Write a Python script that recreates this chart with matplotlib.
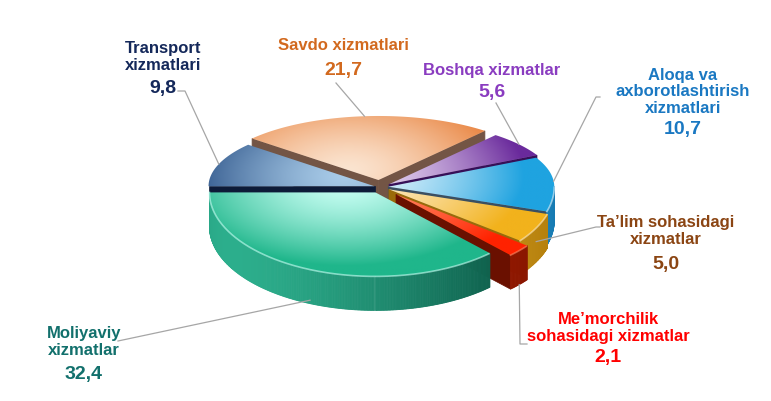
import numpy as np
import matplotlib
matplotlib.use("Agg")
import matplotlib.pyplot as plt
from matplotlib.patches import Polygon
from matplotlib.colors import to_rgb

# slices in counter-clockwise order
names = ["Me’morchilik\nsohasidagi xizmatlar", "Ta’lim sohasidagi\nxizmatlar",
         "Aloqa va\naxborotlashtirish\nxizmatlari", "Boshqa xizmatlar",
         "Savdo xizmatlari", "Transport\nxizmatlari", "Moliyaviy\nxizmatlar"]
values = [2.1, 5.0, 10.7, 5.6, 21.7, 9.8, 32.4]
value_labels = ["2,1", "5,0", "10,7", "5,6", "21,7", "9,8", "32,4"]

top_base = ['#ff2200', '#f2b21c', '#1fa3e0', '#6a2a9c', '#e8803a', '#21487f', '#1fb68b']
top_light = ['#ff8a66', '#fdebc8', '#e6f5fc', '#eadcf3', '#fbe4d0', '#a8cbe8', '#c8fff4']
wall_dark = ['#7a1200', '#b07a08', '#1478b0', '#451868', '#7e604c', '#101f40', '#044536']
wall_light = ['#c42400', '#f0c040', '#5ac4f0', '#7a40a8', '#a8866e', '#2a4a80', '#2cae8c']
face_col = ['#6a1000', '#9a6a0a', '#3b4f60', '#361058', '#735545', '#0d1b38', '#0c6048']
text_col = ['#ff0000', '#8b4513', '#1a78c2', '#8a3cc0', '#d2691e', '#14285a', '#12706c']
explode = [0.13, 0.06, 0.05, 0.07, 0.11, 0.035, 0.07]

# label placement (x centre, name centre y, value centre y) and leader start
label_pos = [(608, 328, 358), (666, 231, 265), (683, 92, 130), (492, 70, 92),
             (343, 45, 70), (163, 57, 89), (84, 342, 375)]
leader_start = [[(527, 345), (520, 345)], [(600, 228), (596, 228)],
                [(600, 98), (596, 98)], [(496, 104)], [(336, 84)],
                [(178, 92), (185, 92)], [(118, 342)]]
anchor_depth = [1.0, 0.4, 0.0, 0.0, 0.0, 0.0, 0.9]

cx, cy, rx, ry_back, ry_front, depth = 380, 188, 166, 64, 84, 34

fig = plt.figure(figsize=(7.71, 4.02), dpi=100)
ax = fig.add_axes([0, 0, 1, 1])
ax.set_axis_off()

total = sum(values)
start = 180 - sum(values[:6]) / total * 360
angles = [start]
for v in values:
    angles.append(angles[-1] + v / total * 360)


def mix(c1, c2, f):
    a, b = np.array(to_rgb(c1)), np.array(to_rgb(c2))
    return a * (1 - f) + b * f


def ry_at(s):
    return ry_back if s > 0 else ry_front


def rim(t, dx, dy, down=0.0):
    r = np.radians(t)
    s = np.sin(r)
    return np.array([cx + rx * np.cos(r) + dx, cy - ry_at(s) * s + dy + down])


offsets = []
for i in range(len(values)):
    mid = np.radians((angles[i] + angles[i + 1]) / 2)
    s = np.sin(mid)
    offsets.append((explode[i] * rx * np.cos(mid), -explode[i] * ry_at(s) * s))

order = sorted(range(len(values)),
               key=lambda i: -np.sin(np.radians((angles[i] + angles[i + 1]) / 2)))
z = 1
for i in order:
    a0, a1 = angles[i], angles[i + 1]
    dx, dy = offsets[i]
    c = np.array([cx + dx, cy + dy])
    cb = c + [0, depth]
    # radial faces
    if np.cos(np.radians(a0)) > 0:
        p, pb = rim(a0, dx, dy), rim(a0, dx, dy, depth)
        ax.add_patch(Polygon([c, p, pb, cb], closed=True, fc=face_col[i], ec=face_col[i], lw=0.5, zorder=z))
        z += 1
    if np.cos(np.radians(a1)) < 0:
        p, pb = rim(a1, dx, dy), rim(a1, dx, dy, depth)
        ax.add_patch(Polygon([c, p, pb, cb], closed=True, fc=face_col[i], ec=face_col[i], lw=0.5, zorder=z))
        z += 1
    # outer wall
    ts = np.linspace(a0, a1, max(int(a1 - a0) * 2, 4))
    front = []
    for t0, t1 in zip(ts[:-1], ts[1:]):
        tm = np.radians((t0 + t1) / 2)
        if np.sin(tm) >= 0:
            continue
        f = 0.5 + 0.5 * np.cos(tm - np.radians(210))
        f = np.clip(f, 0, 1) ** 1.3
        col = mix(wall_dark[i], wall_light[i], f)
        quad = [rim(t0, dx, dy), rim(t1, dx, dy), rim(t1, dx, dy, depth), rim(t0, dx, dy, depth)]
        ax.add_patch(Polygon(quad, closed=True, fc=col, ec=col, lw=0.6, zorder=z))
        front.append(rim(t0, dx, dy))
    z += 1
    # top face with radial gradient
    pts = np.array([c] + [rim(t, dx, dy) for t in ts])
    patch = Polygon(pts, closed=True, fc='none', ec='none', zorder=z)
    ax.add_patch(patch)
    x0, y0 = pts.min(0) - 1
    x1, y1 = pts.max(0) + 1
    X, Y = np.meshgrid(np.linspace(x0, x1, 200), np.linspace(y0, y1, 120))
    r = np.clip(np.hypot((X - c[0] + 30) / rx, (Y - c[1] + 10) / ry_front), 0, 1) ** 1.4
    img = (np.array(to_rgb(top_light[i]))[None, None, :] * (1 - r[..., None])
           + np.array(to_rgb(top_base[i]))[None, None, :] * r[..., None])
    im = ax.imshow(img, extent=(x0, x1, y1, y0), origin='upper', zorder=z,
                   interpolation='bilinear', aspect='auto')
    im.set_clip_path(patch)
    z += 1
    if len(front) > 1:
        fr = np.array(front)
        ax.plot(fr[:, 0], fr[:, 1], color=top_light[i], lw=1.2, alpha=0.6, zorder=z)
        z += 1

fonts = ['Liberation Sans', 'DejaVu Sans']
for i in range(len(values)):
    x, yn, yv = label_pos[i]
    ax.text(x, yn, names[i], ha='center', va='center', fontsize=12, fontweight='bold',
            color=text_col[i], family=fonts, linespacing=1.15, zorder=50)
    ax.text(x, yv, value_labels[i], ha='center', va='center', fontsize=14, fontweight='bold',
            color=text_col[i], family=fonts, zorder=50)
    dx, dy = offsets[i]
    mid = (angles[i] + angles[i + 1]) / 2
    end = rim(mid, dx, dy, anchor_depth[i] * depth)
    pts = np.array(leader_start[i] + [tuple(end)])
    ax.plot(pts[:, 0], pts[:, 1], color='#a6a6a6', lw=0.9, zorder=40)

ax.set_xlim(0, 771)
ax.set_ylim(402, 0)
fig.savefig('out.png', dpi=100, facecolor='white')
